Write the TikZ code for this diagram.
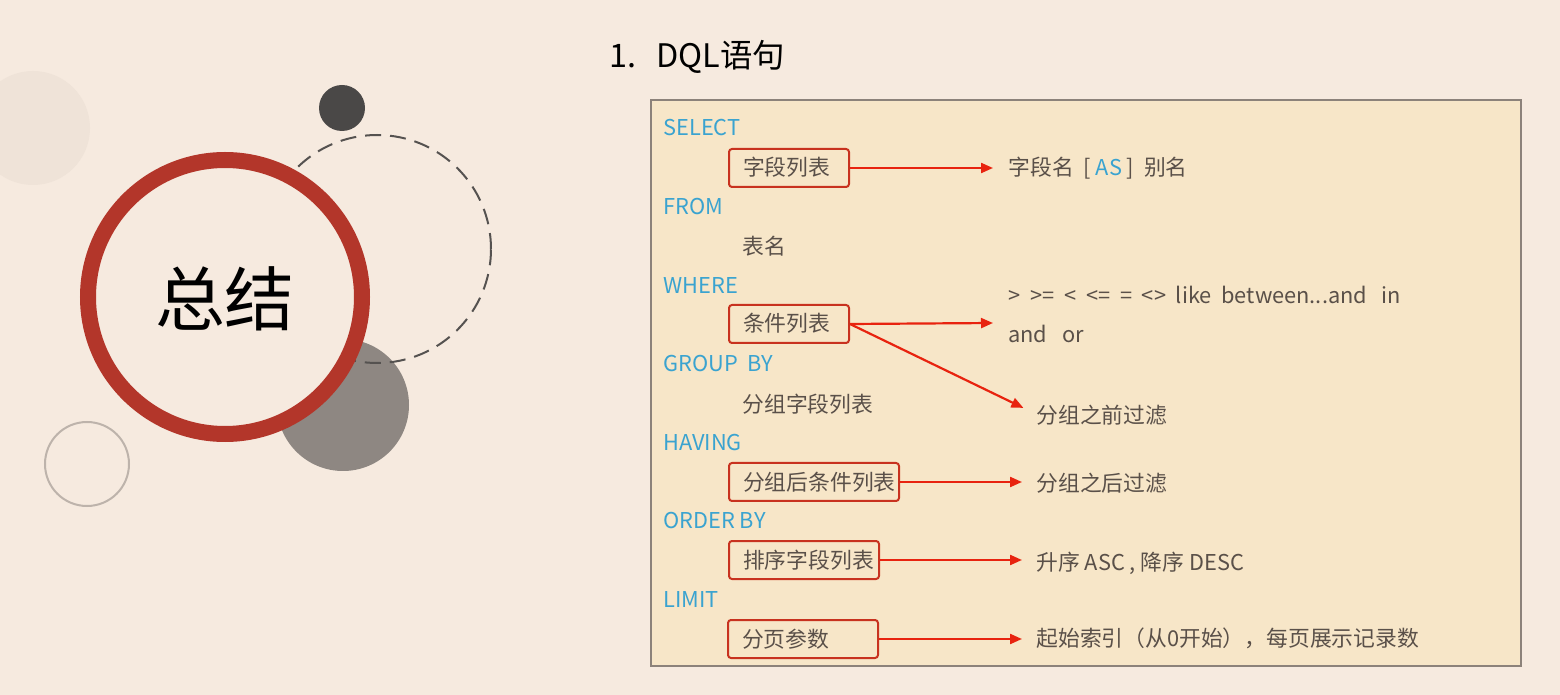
\documentclass[tikz,border=0pt]{standalone}
\usepackage{fontspec}
\setmainfont{Noto Sans CJK SC}
\usetikzlibrary{arrows.meta}

\definecolor{paper}{HTML}{F6EADF}
\definecolor{faintdisk}{HTML}{EFE3D8}
\definecolor{darkdisk}{HTML}{4A4847}
\definecolor{dashgray}{HTML}{555250}
\definecolor{graydisk}{HTML}{8E8782}
\definecolor{ringred}{HTML}{B3362A}
\definecolor{thinring}{HTML}{BDB3AB}
\definecolor{panelfill}{HTML}{F7E6C8}
\definecolor{panelline}{HTML}{8C827A}
\definecolor{kwblue}{HTML}{3AA3D0}
\definecolor{bodygray}{HTML}{5A5049}
\definecolor{boxred}{HTML}{C8321F}
\definecolor{arrowred}{HTML}{E8230F}

\tikzset{
  txt/.style={anchor=west, inner sep=0pt, text=bodygray,
    font=\fontsize{10.9pt}{12pt}\selectfont, text height=9.5pt, text depth=0.5pt},
  kw/.style={txt, text=kwblue},
  redbox/.style={txt, text height=9pt, text depth=1pt, draw=boxred,
    line width=1pt, rounded corners=1.5pt, inner xsep=7pt, inner ysep=4.5pt},
  link/.style={draw=arrowred, line width=1.1pt,
    -{Triangle[length=6pt,width=5pt]}},
}

\begin{document}
\begin{tikzpicture}[x=0.5pt,y=-0.5pt]
  % page
  \fill[paper] (0,0) rectangle (1560,695);
  \useasboundingbox (0,0) rectangle (1560,695);

  % decorative circles
  \fill[faintdisk] (33,128) circle[radius=28.5pt];
  \fill[darkdisk] (342,108) circle[radius=11.5pt];
  \fill[graydisk] (343,405) circle[radius=33pt];
  \draw[dashgray, line width=1pt, dash pattern=on 8pt off 4.5pt]
    (377,249) circle[radius=57pt];
  \draw[ringred, line width=8pt, fill=paper] (225,297) circle[radius=68.5pt];
  \draw[thinring, line width=1pt] (87,464) circle[radius=21pt];
  \node[inner sep=0pt, font=\fontsize{35pt}{37pt}\selectfont] (summary)
    at (225,299) {总结};

  % title
  \node[anchor=west, inner sep=0pt, font=\fontsize{16.2pt}{19pt}\selectfont]
    (title) at (609,57) {1.\hspace{10pt}DQL语句};

  % panel
  \draw[panelline, fill=panelfill, line width=0.6pt] (651,100) rectangle (1521,666);

  % clause keywords
  \node[kw] (kselect) at (663,127) {SELECT};
  \node[kw] (kfrom)   at (663,206) {FROM};
  \node[kw] (kwhere)  at (663,285) {WHERE};
  \node[kw] (kgroup)  at (663,363) {GROUP\ \ BY};
  \node[kw] (khaving) at (663,442) {HAVING};
  \node[kw] (korder)  at (663,520) {ORDER BY};
  \node[kw] (klimit)  at (663,598) {LIMIT};

  % clause contents
  \node[redbox, text width=46pt] (fields) at (728,168) {字段列表};
  \node[txt] (tables) at (742,246) {表名};
  \node[redbox, text width=46pt] (cond) at (728,324) {条件列表};
  \node[txt] (groupfields) at (742,404) {分组字段列表};
  \node[redbox, text width=71pt] (havingcond) at (728,482) {分组后条件列表};
  \node[redbox, text width=61pt] (sortfields) at (728,560) {排序字段列表};
  \node[redbox, text width=61pt] (paging) at (727,639) {分页参数};

  % explanations
  \node[txt] (alias) at (1008,167)
    {字段名\ \ [\ \textcolor{kwblue}{AS}\ ]\ \ 别名};
  \node[txt] (ops) at (1008,295)
    {>\ \ >=\ \ <\ \ <=\ \ =\ \ <>\ \ like\ \ between...and\ \ \ in};
  \node[txt] (logic) at (1008,334) {and\ \ \ or};
  \coordinate (opsin) at (993,323);
  \node[txt] (before) at (1036,414) {分组之前过滤};
  \node[txt] (after) at (1036,483) {分组之后过滤};
  \node[txt] (order) at (1036,561) {升序 ASC , 降序 DESC};
  \node[txt] (limit) at (1036,637) {起始索引（从0开始），每页展示记录数};

  % connectors
  \draw[link, shorten >=7.5pt] (fields.east) -- (fields.east -| alias.west);
  \draw[link] (cond.east) -- (opsin);
  \draw[link, shorten >=7pt] (cond.east) -- (before.west);
  \draw[link, shorten >=7pt] (havingcond.east) -- (havingcond.east -| after.west);
  \draw[link, shorten >=7pt] (sortfields.east) -- (sortfields.east -| order.west);
  \draw[link, shorten >=7pt] (paging.east) -- (paging.east -| limit.west);
\end{tikzpicture}
\end{document}
